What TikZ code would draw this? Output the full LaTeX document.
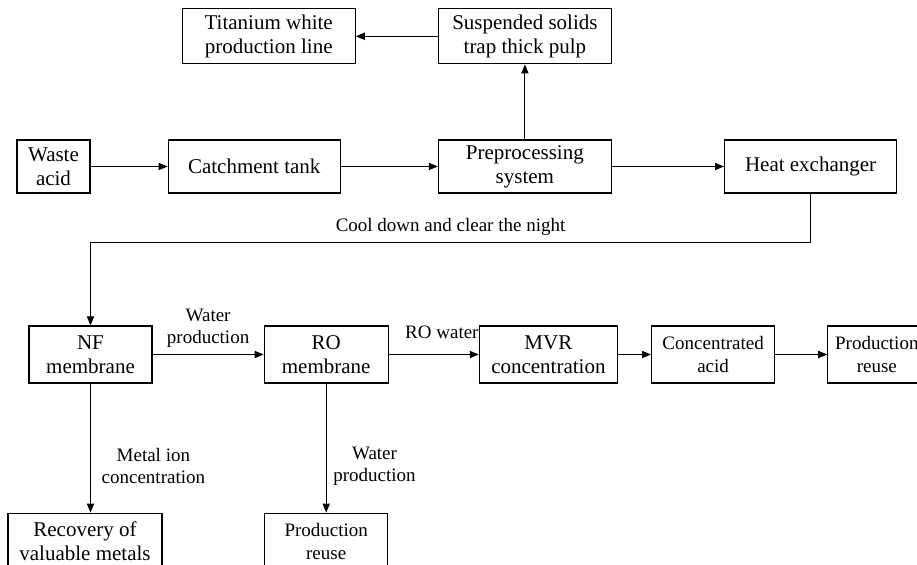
\documentclass[tikz,border=0pt]{standalone}
\usepackage{fontspec}
\setmainfont{Liberation Serif}
\usetikzlibrary{
  positioning,
  arrows.meta,
  quotes
}

\begin{document}
\begin{tikzpicture}[x=0.5pt, y=-0.5pt]
			\tikzset{
			unit/.style={
					rectangle, draw, line width=0.6pt, inner sep=1pt,
					minimum height=26.5pt, minimum width=86.5pt,
					font=\fontsize{10.5}{12}\selectfont, align=center,
				},
			row/.style={minimum height=28.5pt, minimum width=61.5pt},
			small/.style={font=\fontsize{9.5}{11.5}\selectfont},
			flow/.style={
			-{Triangle[length=4.5pt,width=3.6pt]}, line width=0.5pt, },
			every edge quotes/.style={font=\fontsize{9.5}{11}\selectfont, align=center, auto},
			}
			\useasboundingbox (0,0) rectangle (917,565);

			\node[unit,minimum width=36.5pt] (waste) at (53.5,166.5) {Waste\\ acid};
			\node[unit,right=38.5pt of waste,minimum width=86pt] (tank) {Catchment tank};
			\node[unit,right=48.5pt of tank] (pre) {Preprocessing\\ system};
			\node[unit,right=56pt of pre,minimum width=86pt] (heat) {Heat exchanger};
			\node[unit,above=37.5pt of pre,minimum height=27.5pt] (pulp) {Suspended solids\\ trap thick pulp};
			\node[unit,left=41pt of pulp,minimum height=27.5pt] (line) {Titanium white\\ production line};

			\node[unit,row] (nf) at (90.5,354.5) {NF\\ membrane};
			\node[unit,row,right=55.5pt of nf,minimum width=62pt] (ro) {RO\\ membrane};
			\node[unit,row,right=45pt of ro,minimum width=69pt] (mvr) {MVR\\ concentration};
			\node[unit,row,small,right=16.5pt of mvr] (acid) {Concentrated\\ acid};
			\node[unit,row,small,right=26pt of acid,minimum width=49pt] (reuse) {Production\\ reuse};
			\node[unit,row,below=64.5pt of nf,minimum width=77pt,xshift=-2.75pt] (metals) {Recovery of\\ valuable metals};
			\node[unit,row,small,below=64.5pt of ro] (water) {Production\\ reuse};

			\draw[flow] (waste) -- (tank);
			\draw[flow] (tank) -- (pre);
			\draw[flow] (pre) -- (heat);
			\draw[flow] (pre) -- (pulp);
			\draw[flow] (pulp) -- (line);
			\draw[flow] (heat.south) -- ++(0,49) -| (nf.north)
				node[pos=0.25, above, font=\fontsize{9.5}{11}\selectfont] {Cool down and clear the night};

			\draw[flow] (nf) to["Water\\production"] (ro);
			\draw[flow] (ro) to["RO water" {pos=0.59, yshift=4.5pt}] (mvr);
			\draw[flow] (mvr) -- (acid);
			\draw[flow] (acid) -- (reuse);
			\draw[flow] (nf.south) to["Metal ion\\concentration" {pos=0.64, xshift=2pt}] (nf.south |- metals.north);
			\draw[flow] (ro.south) to["Water\\production" {pos=0.64}] (water.north);
		\end{tikzpicture}
\end{document}
